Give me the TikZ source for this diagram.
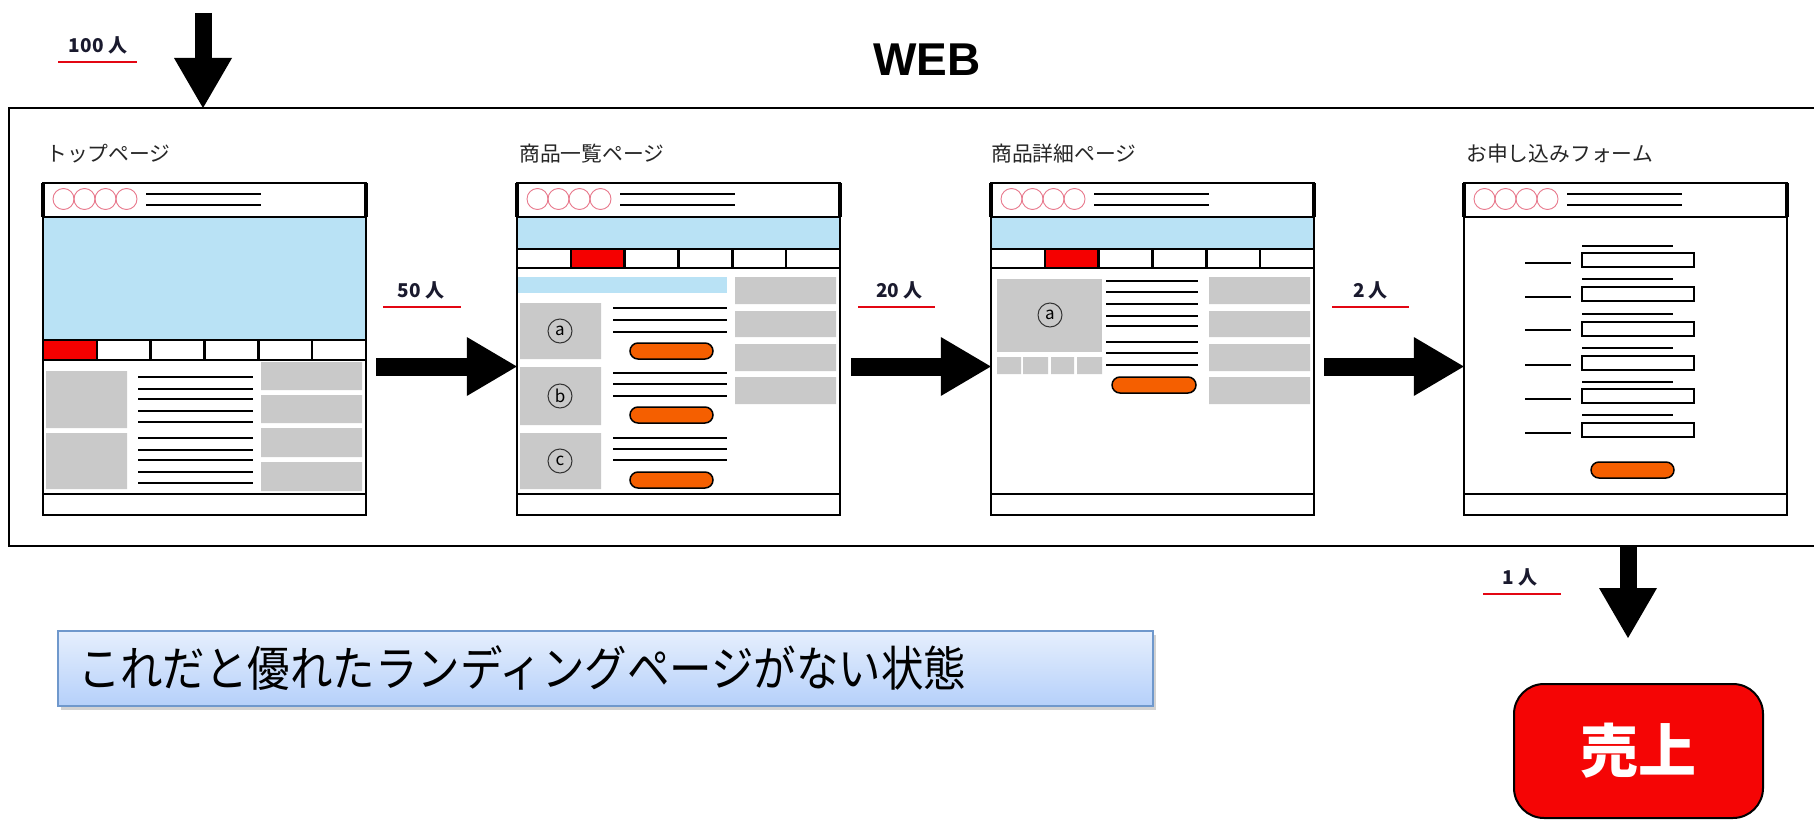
\documentclass[tikz,border=0pt]{standalone}
\usepackage{fontspec}
\setmainfont{Noto Sans CJK JP}
\newfontfamily\webfont{Liberation Sans}
\usetikzlibrary{arrows.meta,shadows}
\definecolor{skyc}{HTML}{B9E2F5}
\definecolor{grayc}{HTML}{C9C9C9}
\definecolor{navred}{HTML}{F50000}
\definecolor{salesred}{HTML}{F50505}
\definecolor{orangec}{HTML}{F55F00}
\definecolor{pinkc}{HTML}{E8788C}
\definecolor{ulred}{HTML}{E30613}
\definecolor{notetop}{HTML}{E6EFFD}
\definecolor{notebot}{HTML}{B5D0FA}
\definecolor{noteborder}{HTML}{6F98CC}
\definecolor{labelc}{HTML}{1A1A2E}
\newcommand\myfs[1]{\fontsize{#1}{#1}\selectfont}
\newcommand\pghead{%
  \draw[frame] (0,183) rectangle (323,217);
  \draw[line width=4pt] (0,183) -- (0,217) (323,183) -- (323,217);
  \foreach \c in {20.5,41.5,62.5,83.5} {\draw[pinkc,line width=0.9pt] (\c,199) circle[radius=10.5pt];}
  \draw[hdrline] (103,194) -- (218,194) (103,205) -- (218,205);
  \draw[frame] (0,494) rectangle (323,515);
  \draw[frame] (0,183) rectangle (323,515);
}
\newcommand\pgnav[2]{%
  \draw[frame] (0,#1) rectangle (323,#2);
  \foreach \i in {1,...,5} {\draw[frame] (\i*53.83,#1) -- (\i*53.83,#2);}
}
\begin{document}
\begin{tikzpicture}[x=1pt,y=-1pt,
  frame/.style={draw=black,line width=2.5pt},
  txtline/.style={line width=2.5pt},
  hdrline/.style={line width=2pt},
  graybox/.style={fill=grayc},
  btn/.style={fill=orangec,draw=black,line width=1.5pt,rounded corners=8pt},
  flowarrow/.style={line width=18pt,-{Triangle[length=50pt,width=59pt,line width=0pt]}},
  cnt/.style={font=\bfseries\myfs{19},text=labelc,inner sep=0},
  ul/.style={draw=ulred,line width=2pt},
  ptitle/.style={font=\myfs{20.8},anchor=west,inner sep=0,text=black!85},
  circlet/.style={circle,draw=black!80,line width=1pt,minimum size=24pt,inner sep=0,font=\myfs{17}},
  pagebox/.style={inner sep=0,minimum width=323pt,minimum height=332pt}
]
\useasboundingbox (0,0) rectangle (1814,821);
\fill[white] (0,0) rectangle (1814,821);

% WEB frame
\coordinate (webtl) at (9,108);
\coordinate (webbl) at (9,546);
\draw[line width=2.5pt] (1814,108) -- (webtl) -- (webbl) -- (1814,546);
\node[font=\webfont\bfseries\myfs{46},inner sep=0] (webtitle) at (927,60) {WEB};

% page anchors
\node[pagebox] (p1) at (204.5,349) {};
\node[pagebox] (p2) at (678.5,349) {};
\node[pagebox] (p3) at (1152.5,349) {};
\node[pagebox] (p4) at (1625.5,349) {};

% titles
\node[ptitle] (t1) at (46,154) {トップページ};
\node[ptitle] (t2) at (519,154) {商品一覧ページ};
\node[ptitle] (t3) at (991,154) {商品詳細ページ};
\node[ptitle] (t4) at (1466,154) {お申し込みフォーム};

% ---------- page 1
\begin{scope}[xshift=43pt]
\fill[skyc] (0,217) rectangle (323,340);
\fill[navred] (0,340) rectangle (53.83,360);
\fill[graybox] (3,371) rectangle (84,428) (3,433) rectangle (84,489);
\fill[graybox] (218,362) rectangle (319,390) (218,395) rectangle (319,423)
               (218,428) rectangle (319,457) (218,462) rectangle (319,491);
\foreach \y in {377,389,399,411,422,438,450,460,472,483} {\draw[txtline] (95,\y) -- (210,\y);}
\pgnav{340}{360}
\pghead
\end{scope}

% ---------- page 2
\begin{scope}[xshift=517pt]
\fill[skyc] (0,217) rectangle (323,249);
\fill[navred] (53.83,249) rectangle (107.67,268);
\fill[skyc] (0,277) rectangle (210,293);
\fill[graybox] (3,303) rectangle (84,359) (3,367) rectangle (84,425) (3,433) rectangle (84,489);
\fill[graybox] (218,277) rectangle (319,304) (218,311) rectangle (319,337)
               (218,344) rectangle (319,371) (218,377) rectangle (319,404);
\foreach \y in {308,320,332,373,384,396,438,449,460} {\draw[txtline] (96,\y) -- (210,\y);}
\draw[btn] (113,343) rectangle (196,359);
\draw[btn] (113,407) rectangle (196,423);
\draw[btn] (113,472) rectangle (196,488);
\node[circlet] (ca2) at (43,331) {a};
\node[circlet] (cb2) at (43,396) {b};
\node[circlet] (cc2) at (43,461) {c};
\pgnav{249}{268}
\pghead
\end{scope}

% ---------- page 3
\begin{scope}[xshift=991pt]
\fill[skyc] (0,217) rectangle (323,249);
\fill[navred] (53.83,249) rectangle (107.67,268);
\fill[graybox] (6,279) rectangle (111,352);
\fill[graybox] (6,357) rectangle (30,374) (32,357) rectangle (57,374)
               (60,357) rectangle (83,374) (86,357) rectangle (111,374);
\fill[graybox] (218,277) rectangle (319,304) (218,311) rectangle (319,337)
               (218,344) rectangle (319,371) (218,377) rectangle (319,404);
\foreach \y in {281,292,304,316,326,342,353,365} {\draw[txtline] (115,\y) -- (207,\y);}
\draw[btn] (121,377) rectangle (205,393);
\node[circlet] (ca3) at (59,315) {a};
\pgnav{249}{268}
\pghead
\end{scope}

% ---------- page 4
\begin{scope}[xshift=1464pt]
\foreach \y in {263,297,330,365,399,433} {\draw[txtline] (61,\y) -- (107,\y);}
\foreach \y in {246,279,314,348,382,415} {\draw[txtline] (118,\y) -- (209,\y);}
\foreach \y in {253,287,322,356,389,423} {\draw[line width=2.2pt] (118,\y) rectangle (230,\y+14);}
\draw[btn] (127,462) rectangle (210,478);
\pghead
\end{scope}

% ---------- labels
\node[cnt] (n100) at (98,45) {100 人};
\draw[ul] (58,62) -- (137,62);
\node[cnt] (n50) at (421,290) {50 人};
\draw[ul] (383,307) -- (461,307);
\node[cnt] (n20) at (899.5,290) {20 人};
\draw[ul] (858,307) -- (935,307);
\node[cnt] (n2) at (1370.5,290) {2 人};
\draw[ul] (1332,307) -- (1409,307);
\node[cnt] (n1) at (1520,577) {1 人};
\draw[ul] (1483,594) -- (1561,594);

% ---------- flow arrows
\draw[flowarrow] ([xshift=10pt,yshift=-17.5pt]p1.east) -- ([yshift=-17.5pt]p2.west);
\draw[flowarrow] ([xshift=11pt,yshift=-17.5pt]p2.east) -- ([yshift=-17.5pt]p3.west);
\draw[flowarrow] ([xshift=10pt,yshift=-17.5pt]p3.east) -- ([yshift=-17.5pt]p4.west);

% ---------- sales
\node[draw=black,line width=2pt,fill=salesred,rounded corners=30pt,minimum width=249pt,
      minimum height=134pt,inner sep=0,text=white,font=\bfseries\myfs{58}] (sales) at (1638.5,751) {売上};

% ---------- entry / exit arrows
\coordinate (entry) at (203,13);
\draw[line width=17pt,-{Triangle[length=50pt,width=58pt,line width=0pt]}] (entry) -- (entry |- webtl);
\coordinate (exit) at (1628,546);
\coordinate (salesin) at ([yshift=45pt]sales.north);
\draw[line width=17pt,-{Triangle[length=50pt,width=58pt,line width=0pt]}] (exit) -- (exit |- salesin);

% ---------- note
\node[draw=noteborder,line width=2pt,top color=notetop,bottom color=notebot,
      drop shadow={opacity=0.35,shadow xshift=3pt,shadow yshift=-4pt},
      minimum height=75pt,text width=1055pt,inner xsep=20pt,inner ysep=0,align=left,
      anchor=west,font=\myfs{48}] (note) at (57,668.5)
      {\scalebox{0.885}[1]{これだと優れたランディングページがない状態}};
\end{tikzpicture}
\end{document}
